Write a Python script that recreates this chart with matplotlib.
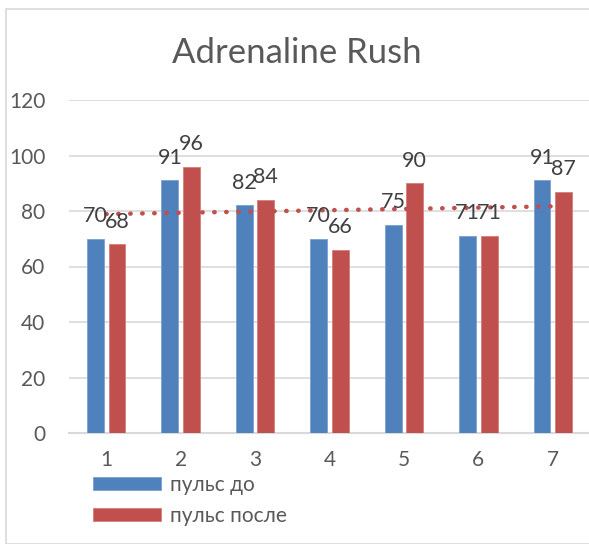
import numpy as np
import matplotlib
matplotlib.use("Agg")
import matplotlib.pyplot as plt
from matplotlib.patches import Rectangle

plt.rcParams['font.family'] = ['Lato', 'DejaVu Sans']

categories = ['1', '2', '3', '4', '5', '6', '7']
before = [70, 91, 82, 70, 75, 71, 91]
after = [68, 96, 84, 66, 90, 71, 87]
series_names = ['пульс до', 'пульс после']
title = 'Adrenaline Rush'
yticks = [0, 20, 40, 60, 80, 100, 120]

BLUE = '#4F81BD'
RED = '#C0504D'
TXT = '#595959'
LBL = '#404040'

W, H = 589, 544
fig = plt.figure(figsize=(W / 100, H / 100), dpi=100)

# chart border
fig.patches.append(Rectangle((6 / W, 0), 1, 1 - 8.5 / H, transform=fig.transFigure,
                             fill=False, edgecolor='#D9D9D9', linewidth=1.2))

ax = fig.add_axes([69 / W, (H - 433) / H, (590 - 69) / W, (433 - 100) / H])
x = np.arange(1, len(categories) + 1)
bw = 0.225
off = 0.145
b1 = ax.bar(x - off, before, bw, color=BLUE, edgecolor='#7BA0D0', linewidth=0.6, label=series_names[0], zorder=3)
b2 = ax.bar(x + off, after, bw, color=RED, edgecolor='#D27F7D', linewidth=0.6, label=series_names[1], zorder=3)

for xi, v in zip(x - off, before):
    ax.annotate(str(v), (xi, v), xytext=(0, 12), textcoords='offset points',
                ha='center', va='baseline', fontsize=15.5, color=LBL, zorder=5)
for xi, v in zip(x + off, after):
    ax.annotate(str(v), (xi, v), xytext=(0, 12), textcoords='offset points',
                ha='center', va='baseline', fontsize=15.5, color=LBL, zorder=5)

# linear trend line of "after"
k, b = np.polyfit(x, after, 1)
xt = np.array([x[0], x[-1]])
ax.plot(xt, k * xt + b, color=RED, linestyle=(0, (0.1, 2.6)), linewidth=3.2,
        dash_capstyle='round', zorder=4)

ax.set_xlim(0.5, len(categories) + 0.5)
ax.set_ylim(0, 120)
ax.set_yticks(yticks)
ax.set_xticks(x)
ax.set_xticklabels(categories)
ax.grid(axis='y', color='#D9D9D9', linewidth=1.2, zorder=0)
for s in ['top', 'right', 'left']:
    ax.spines[s].set_visible(False)
ax.spines['bottom'].set_color('#D9D9D9')
ax.spines['bottom'].set_linewidth(1.5)
ax.tick_params(axis='both', length=0, labelsize=15, labelcolor=TXT)
ax.tick_params(axis='y', pad=17)
ax.tick_params(axis='x', pad=12)

fig.text(297 / W, 1 - 53 / H, title, ha='center', va='center', fontsize=25, color=TXT)

leg = fig.legend(handles=[b1, b2], loc='upper left', bbox_to_anchor=(93 / W, 1 - 475 / H),
                 frameon=False, fontsize=15, handlelength=3.25, handleheight=0.62,
                 labelspacing=0.52, handletextpad=0.45, borderpad=0, borderaxespad=0)
for t in leg.get_texts():
    t.set_color(TXT)

fig.savefig('out.png', dpi=100, facecolor='white')
